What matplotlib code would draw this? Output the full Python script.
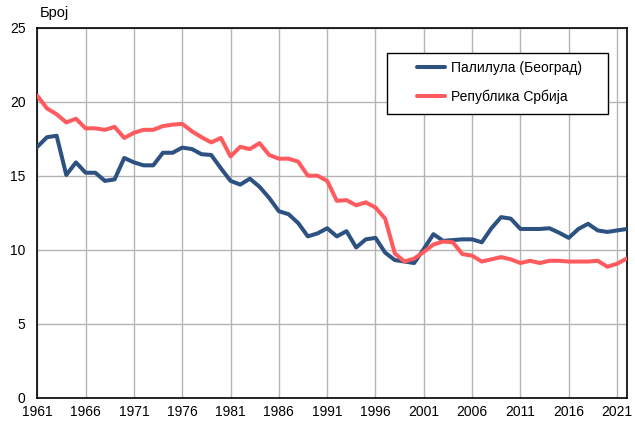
import matplotlib
matplotlib.use("Agg")
import matplotlib.pyplot as plt
from matplotlib.patches import Rectangle

plt.rcParams['font.family'] = ['Liberation Sans', 'DejaVu Sans']

years = list(range(1961, 2023))
palilula = [16.95, 17.6, 17.7, 15.05, 15.9, 15.2, 15.2, 14.65, 14.75, 16.2,
            15.9, 15.7, 15.7, 16.55, 16.55, 16.9, 16.8, 16.45, 16.4, 15.5,
            14.65, 14.4, 14.8, 14.25, 13.5, 12.6, 12.4, 11.8, 10.9, 11.1,
            11.45, 10.9, 11.25, 10.15, 10.7, 10.8, 9.8, 9.3, 9.2, 9.1,
            10.05, 11.05, 10.6, 10.65, 10.7, 10.7, 10.5, 11.45, 12.2, 12.1,
            11.4, 11.4, 11.4, 11.45, 11.15, 10.8, 11.4, 11.75, 11.3, 11.2,
            11.3, 11.4]
srbija = [20.4, 19.55, 19.15, 18.6, 18.85, 18.2, 18.2, 18.1, 18.3, 17.55,
          17.9, 18.1, 18.1, 18.35, 18.45, 18.5, 18.0, 17.6, 17.25, 17.55,
          16.3, 16.95, 16.8, 17.2, 16.4, 16.15, 16.15, 15.95, 15.0, 15.0,
          14.65, 13.3, 13.35, 13.0, 13.2, 12.85, 12.1, 9.75, 9.2, 9.4,
          9.85, 10.35, 10.55, 10.5, 9.7, 9.6, 9.2, 9.35, 9.5, 9.35,
          9.1, 9.25, 9.1, 9.25, 9.25, 9.2, 9.2, 9.2, 9.25, 8.85,
          9.05, 9.4]
labels = ['Палилула (Београд)', 'Република Србија']
xticks = list(range(1961, 2022, 5))
yticks = [0, 5, 10, 15, 20, 25]

fig = plt.figure(figsize=(6.35, 4.21), dpi=100)
ax = fig.add_axes([37.3/635, (421-397.7)/421, 589.4/635, 370/421])

ax.plot(years, palilula, color='#2D5282', lw=2.9, label=labels[0], solid_capstyle='round', zorder=3)
ax.plot(years, srbija, color='#FF5B5E', lw=2.9, label=labels[1], solid_capstyle='round', zorder=3)

ax.set_xlim(1961, 2022)
ax.set_ylim(0, 25)
ax.set_xticks(xticks + [2022])
ax.set_xticklabels([str(x) for x in xticks] + [''])
ax.set_yticks(yticks)
ax.tick_params(length=0, labelsize=10, colors='black')
ax.tick_params(axis='x', pad=5.5)
ax.tick_params(axis='y', pad=8.5)
ax.grid(True, color='#B4B4B4', lw=1)
ax.set_axisbelow(True)
for s in ax.spines.values():
    s.set_color('black')
    s.set_linewidth(1.2)

fig.text(40/635, 1 - 13/421, 'Број', fontsize=10.5, ha='left', va='center')

# legend frame
ax.add_patch(Rectangle((0.5928, 0.766), 0.9688 - 0.5928, 0.9308 - 0.766,
                       transform=ax.transAxes, facecolor='white', edgecolor='black',
                       lw=1.0, zorder=4))
leg = ax.legend(loc='upper left', bbox_to_anchor=(0.6437, 0.9095), frameon=False,
                fontsize=10, handlelength=2.05, handletextpad=0.45, borderpad=0,
                labelspacing=1.05, borderaxespad=0)
leg.set_zorder(5)

fig.savefig('out.png', dpi=100)
